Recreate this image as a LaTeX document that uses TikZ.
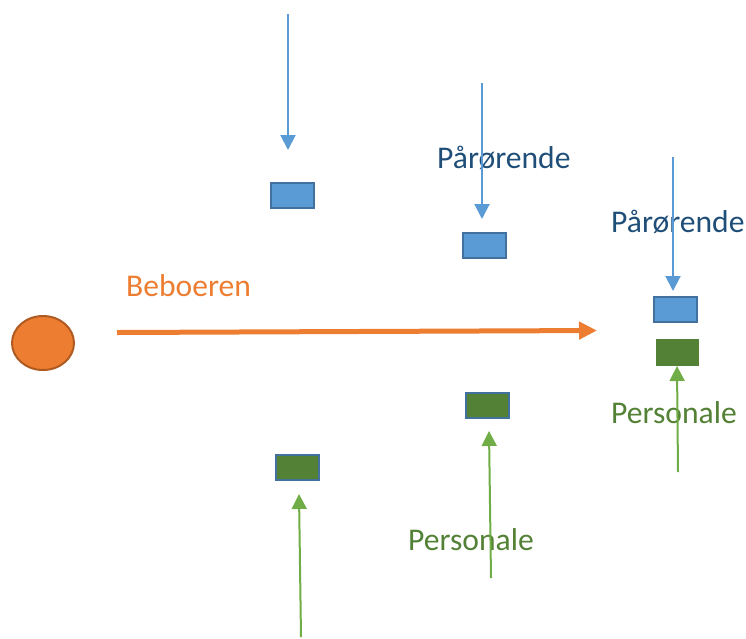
\documentclass[tikz,border=0pt]{standalone}
\usepackage{fontspec}
\setmainfont{Carlito}
\usetikzlibrary{arrows.meta,shapes.geometric}
\definecolor{orng}{HTML}{ED7D31}
\definecolor{orngdark}{HTML}{AE5A21}
\definecolor{bluefill}{HTML}{5B9BD5}
\definecolor{blueedge}{HTML}{41719C}
\definecolor{darkblue}{HTML}{1F4E79}
\definecolor{grnfill}{HTML}{538135}
\definecolor{grnline}{HTML}{70AD47}
\tikzset{
  box/.style={rectangle, minimum width=#1, minimum height=25pt, inner sep=0pt, line width=2pt},
  bluebox/.style={box=43pt, fill=bluefill, draw=blueedge},
  greenbox/.style={box=43pt, fill=grnfill, draw=blueedge},
  greenplain/.style={box=43pt, minimum height=27pt, fill=grnfill, draw=none},
  bluearrow/.style={draw=bluefill, line width=2pt, -{Triangle[length=15pt,width=15pt]}},
  greenarrow/.style={draw=grnline, line width=2pt, -{Triangle[length=15pt,width=15pt]}},
  lbl/.style={inner sep=0pt, anchor=base west, font=\fontsize{31.6}{36}\selectfont},
}
\begin{document}
\begin{tikzpicture}[x=1pt,y=-1pt]
\useasboundingbox (0,0) rectangle (746,638);
% resident
\node[ellipse, draw=orngdark, fill=orng, line width=2pt, minimum width=62pt, minimum height=54pt, inner sep=0pt] (res) at (43,343) {};
\node[lbl, text=orng] (beb) at (126,296) {Beboeren};
\coordinate (oa) at (117,332.5);
\coordinate (ob) at (597,330.5);
\draw[draw=orng, line width=5pt, -{Triangle[length=18pt,width=17pt]}] (oa) -- (ob);
% blue boxes
\node[bluebox] (b1) at (292.5,195.5) {};
\node[bluebox] (b2) at (484,245.5) {};
\node[bluebox] (b3) at (675,309.5) {};
% green boxes
\node[greenbox] (g1) at (297.5,467.5) {};
\node[greenbox] (g2) at (487,405) {};
\node[greenplain] (g3) at (677.5,352.5) {};
% labels
\node[lbl, text=darkblue] (p1) at (437,168) {Pårørende};
\node[lbl, text=darkblue] (p2) at (611,232) {Pårørende};
\node[lbl, text=grnfill] (s1) at (408,550) {Personale};
\node[lbl, text=grnfill] (s2) at (611,423) {Personale};
% blue arrows
\coordinate (ba1) at (288,14);   \coordinate (bt1) at (288,150);
\coordinate (ba2) at (482,83);   \coordinate (bt2) at (482,219);
\coordinate (ba3) at (673,157);  \coordinate (bt3) at (673,291);
\draw[bluearrow] (ba1) -- (bt1);
\draw[bluearrow] (ba2) -- (bt2);
\draw[bluearrow] (ba3) -- (bt3);
% green arrows
\coordinate (ga1) at (301,637);  \coordinate (gt1) at (299,494);
\coordinate (ga2) at (491,578);  \coordinate (gt2) at (489,431);
\coordinate (ga3) at (678,472);  \coordinate (gt3) at (677,366);
\draw[greenarrow] (ga1) -- (gt1);
\draw[greenarrow] (ga2) -- (gt2);
\draw[greenarrow] (ga3) -- (gt3);
\end{tikzpicture}
\end{document}
